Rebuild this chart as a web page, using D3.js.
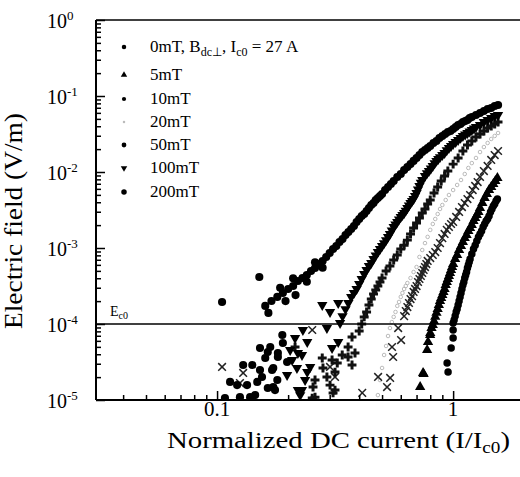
<!DOCTYPE html>
<html><head><meta charset="utf-8">
<script src="https://cdn.jsdelivr.net/npm/d3@7"></script>
<style>body{margin:0;background:#fff}svg{display:block}text{font-family:"Liberation Serif","Times New Roman",Times,serif;fill:#000}</style>
</head><body>
<svg id="c" width="520" height="477"></svg>
<script>
// ---------- data (I/Ic0, E in V/m) ----------
const seriesNames = ["0mT", "5mT", "10mT", "20mT", "50mT", "100mT", "200mT"];
const yMajorTicks = [1, 1e-1, 1e-2, 1e-3, 1e-4, 1e-5];
const yTickExp = ["0", "-1", "-2", "-3", "-4", "-5"];
const xMajorTicks = [0.1, 1];
const xTickLabels = ["0.1", "1"];
const Ec0 = 1e-4;

const s0mT = [[0.943,3.07e-5],[0.952,2.33e-5],[0.981,4.83e-5],[1.0,6.55e-5],[1.0,8.34e-5],
[1.00,1.03e-4],[1.01,1.13e-4],[1.02,1.27e-4],[1.03,1.44e-4],[1.04,1.57e-4],[1.05,1.78e-4],[1.06,2.01e-4],[1.07,2.27e-4],[1.08,2.56e-4],[1.09,2.89e-4],[1.10,3.26e-4],[1.11,3.57e-4],[1.12,4.03e-4],[1.13,4.41e-4],[1.14,4.83e-4],[1.15,5.46e-4],[1.16,5.97e-4],[1.17,6.55e-4],[1.18,7.16e-4],[1.20,8.34e-4],[1.22,9.70e-4],[1.24,1.09e-3],[1.26,1.24e-3],[1.28,1.40e-3],[1.30,1.53e-3],[1.32,1.67e-3],[1.34,1.89e-3],[1.36,2.07e-3],[1.38,2.27e-3],[1.40,2.41e-3],[1.42,2.64e-3],[1.44,2.98e-3],[1.46,3.26e-3],[1.48,3.57e-3],[1.50,3.79e-3],[1.52,4.15e-3],[1.54,4.41e-3]];

const s5mT = [[0.725,1.48e-5],[0.746,2.27e-5],[0.750,2.20e-5],[0.776,4.55e-5],[0.783,5.79e-5],[0.799,7.16e-5],
[0.80,7.62e-5],[0.81,8.85e-5],[0.82,9.70e-5],[0.83,1.09e-4],[0.84,1.24e-4],[0.85,1.40e-4],[0.86,1.57e-4],[0.87,1.78e-4],[0.88,2.01e-4],[0.89,2.20e-4],[0.90,2.41e-4],[0.91,2.64e-4],[0.92,2.89e-4],[0.93,3.26e-4],[0.94,3.57e-4],[0.95,3.91e-4],[0.96,4.28e-4],[0.97,4.69e-4],[0.98,5.14e-4],[0.99,5.62e-4],[1.00,6.15e-4],[1.02,7.16e-4],[1.04,8.09e-4],[1.06,9.41e-4],[1.08,1.06e-3],[1.10,1.20e-3],[1.12,1.35e-3],[1.14,1.48e-3],[1.16,1.67e-3],[1.18,1.83e-3],[1.20,2.01e-3],[1.22,2.27e-3],[1.24,2.48e-3],[1.26,2.72e-3],[1.28,2.98e-3],[1.30,3.36e-3],[1.33,3.91e-3],[1.36,4.55e-3],[1.39,5.14e-3],[1.42,5.79e-3],[1.45,6.35e-3],[1.48,6.95e-3],[1.51,7.62e-3],[1.54,8.34e-3]];

const s10mT = [[0.105,2.72e-5],[0.125,1.67e-5],[0.129,2.27e-5],[0.253,8.34e-5],[0.301,2.72e-5],[0.316,2.01e-5],
[0.412,1.24e-5],[0.481,2.01e-5],[0.525,1.48e-5],[0.541,1.95e-5],[0.557,3.68e-5],[0.551,4.98e-5],[0.602,6.15e-5],[0.585,8.85e-5],
[0.62,1.27e-4],[0.63,1.48e-4],[0.64,1.67e-4],[0.65,1.89e-4],[0.66,2.13e-4],[0.67,2.33e-4],[0.68,2.64e-4],[0.69,2.89e-4],[0.70,3.16e-4],[0.71,3.57e-4],[0.72,3.91e-4],[0.73,4.28e-4],[0.74,4.69e-4],[0.75,5.14e-4],[0.76,5.62e-4],[0.77,6.15e-4],[0.78,6.75e-4],[0.80,7.38e-4],[0.82,8.09e-4],[0.84,8.85e-4],[0.86,1.00e-3],[0.88,1.16e-3],[0.90,1.35e-3],[0.92,1.53e-3],[0.94,1.73e-3],[0.96,1.89e-3],[0.98,2.07e-3],[1.00,2.20e-3],[1.03,2.56e-3],[1.06,2.98e-3],[1.09,3.46e-3],[1.12,3.91e-3],[1.15,4.41e-3],[1.18,4.98e-3],[1.21,5.79e-3],[1.24,6.55e-3],[1.27,7.38e-3],[1.30,8.60e-3],[1.35,1.03e-2],[1.40,1.20e-2],[1.45,1.44e-2],[1.50,1.67e-2],[1.55,1.89e-2]];

const s20mT = [[0.48,1.16e-5],[0.49,1.83e-5],[0.50,2.64e-5],[0.51,3.91e-5],[0.52,5.14e-5],[0.53,6.95e-5],[0.54,8.85e-5],[0.55,1.06e-4],[0.56,1.24e-4],[0.57,1.44e-4],[0.58,1.73e-4],[0.59,1.95e-4],[0.60,2.27e-4],[0.61,2.56e-4],[0.62,2.89e-4],[0.63,3.16e-4],[0.64,3.46e-4],[0.66,4.03e-4],[0.68,4.83e-4],[0.70,5.62e-4],[0.72,7.62e-4],[0.74,9.41e-4],[0.76,1.16e-3],[0.78,1.40e-3],[0.80,1.73e-3],[0.82,2.07e-3],[0.84,2.41e-3],[0.86,2.80e-3],[0.88,3.26e-3],[0.90,3.68e-3],[0.93,4.28e-3],[0.96,4.98e-3],[1.00,5.79e-3],[1.04,6.75e-3],[1.08,7.85e-3],[1.12,9.41e-3],[1.16,1.13e-2],[1.20,1.31e-2],[1.25,1.53e-2],[1.30,1.83e-2],[1.35,2.13e-2],[1.40,2.41e-2],[1.45,2.72e-2],[1.50,2.98e-2],[1.55,3.26e-2]];

const s50mT = [[0.279,3.57e-5],[0.260,1.83e-5],[0.253,1.06e-5],[0.373,6.75e-5],[0.359,4.98e-5],[0.339,3.91e-5],[0.384,4.15e-5],[0.307,3.36e-5],[0.323,3.07e-5],[0.359,3.68e-5],[0.281,2.64e-5],[0.316,2.33e-5],[0.373,2.89e-5],[0.292,2.01e-5],[0.255,1.48e-5],[0.301,1.57e-5],[0.316,1.35e-5],[0.260,1.09e-5],[0.310,1.24e-5],[0.214,4.98e-5],
[0.40,8.09e-5],[0.41,1.00e-4],[0.42,1.24e-4],[0.43,1.44e-4],[0.44,1.78e-4],[0.45,2.13e-4],[0.46,2.48e-4],[0.47,2.80e-4],[0.48,3.16e-4],[0.49,3.57e-4],[0.50,4.03e-4],[0.52,4.98e-4],[0.54,5.79e-4],[0.56,6.95e-4],[0.58,8.09e-4],[0.60,9.70e-4],[0.62,1.09e-3],[0.64,1.27e-3],[0.66,1.53e-3],[0.68,1.83e-3],[0.70,2.13e-3],[0.72,2.48e-3],[0.74,2.89e-3],[0.76,3.26e-3],[0.78,3.79e-3],[0.80,4.28e-3],[0.83,5.30e-3],[0.86,6.35e-3],[0.89,7.62e-3],[0.92,8.85e-3],[0.95,1.03e-2],[1.00,1.27e-2],[1.05,1.53e-2],[1.10,1.89e-2],[1.15,2.27e-2],[1.20,2.56e-2],[1.25,2.89e-2],[1.30,3.16e-2],[1.35,3.46e-2],[1.40,3.79e-2],[1.45,4.03e-2],[1.50,4.28e-2],[1.55,4.55e-2]];

const s100mT = [[0.231,8.34e-5],[0.214,6.55e-5],[0.241,5.79e-5],[0.204,4.55e-5],[0.220,4.15e-5],[0.198,2.13e-5],[0.241,2.33e-5],[0.229,1.35e-5],[0.292,8.85e-5],[0.332,1.03e-4],[0.326,5.79e-5],[0.307,4.83e-5],[0.208,3.36e-5],[0.229,3.91e-5],[0.218,2.64e-5],[0.248,2.72e-5],[0.236,1.83e-5],[0.220,1.35e-5],[0.225,1.16e-5],[0.326,1.89e-4],[0.301,1.44e-4],[0.279,1.78e-4],
[0.34,1.27e-4],[0.35,1.57e-4],[0.36,1.89e-4],[0.37,2.27e-4],[0.38,2.56e-4],[0.39,2.89e-4],[0.40,3.36e-4],[0.41,3.91e-4],[0.42,4.55e-4],[0.43,5.14e-4],[0.44,5.79e-4],[0.45,6.35e-4],[0.46,7.16e-4],[0.47,8.0e-4],[0.48,8.85e-4],[0.49,9.7e-4],[0.50,1.06e-3],[0.51,1.16e-3],[0.52,1.27e-3],[0.53,1.40e-3],[0.54,1.53e-3],[0.55,1.70e-3],[0.56,1.89e-3],[0.57,2.04e-3],[0.58,2.20e-3],[0.59,2.38e-3],[0.60,2.56e-3],[0.61,2.72e-3],[0.62,2.89e-3],[0.63,3.10e-3],[0.64,3.36e-3],[0.65,3.62e-3],[0.66,3.91e-3],[0.67,4.15e-3],[0.68,4.41e-3],[0.69,4.85e-3],[0.70,5.30e-3],[0.71,5.90e-3],[0.72,6.55e-3],[0.73,7.2e-3],[0.74,7.85e-3],[0.76,8.85e-3],[0.775,9.6e-3],[0.79,1.03e-2],[0.805,1.11e-2],[0.82,1.20e-2],[0.835,1.30e-2],[0.85,1.40e-2],[0.865,1.48e-2],[0.88,1.57e-2],[0.90,1.67e-2],[0.92,1.78e-2],[0.94,1.93e-2],[0.96,2.07e-2],[0.98,2.20e-2],[1.00,2.33e-2],[1.025,2.48e-2],[1.05,2.64e-2],[1.075,2.81e-2],[1.10,2.98e-2],[1.125,3.12e-2],[1.15,3.26e-2],[1.175,3.41e-2],[1.20,3.57e-2],[1.225,3.74e-2],[1.25,3.91e-2],[1.30,4.15e-2],[1.35,4.55e-2],[1.40,4.83e-2],[1.45,5.14e-2],[1.50,5.46e-2],[1.55,5.62e-2]];

const s200mT = [[0.105,1.95e-4],[0.151,4.15e-4],
[0.189,7.16e-5],[0.190,5.62e-5],[0.152,4.83e-5],[0.164,4.28e-5],[0.181,4.15e-5],[0.198,3.16e-5],[0.129,2.89e-5],[0.141,2.89e-5],[0.152,2.48e-5],[0.171,2.48e-5],[0.1135,1.73e-5],[0.1216,1.57e-5],[0.134,1.57e-5],[0.148,1.73e-5],[0.180,1.83e-5],[0.164,1.44e-5],[0.176,1.35e-5],[0.138,1.09e-5],[0.145,1.16e-5],[0.108,1.06e-5],[0.168,4.98e-5],[0.160,3.57e-5],[0.181,3.68e-5],[0.173,2.64e-5],[0.155,2.01e-5],[0.173,1.48e-5],[0.125,1.09e-5],
[0.165,1.40e-4],[0.185,3.00e-4],[0.195,2.00e-4],[0.21,4.00e-4],[0.215,2.40e-4],[0.24,3.60e-4],[0.26,6.50e-4],[0.28,5.50e-4],
[0.16,1.73e-4],[0.17,2.01e-4],[0.18,2.27e-4],[0.19,2.56e-4],[0.20,2.89e-4],[0.21,3.16e-4],[0.22,3.68e-4],[0.23,4.03e-4],[0.24,4.41e-4],[0.25,4.98e-4],[0.26,5.46e-4],[0.27,6.15e-4],[0.28,6.75e-4],[0.29,7.62e-4],[0.30,8.60e-4],[0.31,9.70e-4],[0.32,1.06e-3],[0.33,1.20e-3],[0.34,1.31e-3],[0.35,1.48e-3],[0.36,1.62e-3],[0.37,1.78e-3],[0.38,1.95e-3],[0.39,2.20e-3],[0.40,2.41e-3],[0.41,2.64e-3],[0.42,2.80e-3],[0.43,3.07e-3],[0.44,3.36e-3],[0.45,3.68e-3],[0.46,3.91e-3],[0.47,4.28e-3],[0.48,4.55e-3],[0.49,4.83e-3],[0.50,5.14e-3],[0.515,5.79e-3],[0.53,6.35e-3],[0.545,6.95e-3],[0.56,7.62e-3],[0.58,8.60e-3],[0.60,9.41e-3],[0.62,1.06e-2],[0.64,1.16e-2],[0.66,1.27e-2],[0.68,1.40e-2],[0.70,1.53e-2],[0.72,1.67e-2],[0.74,1.83e-2],[0.76,1.95e-2],[0.78,2.07e-2],[0.80,2.20e-2],[0.825,2.41e-2],[0.85,2.56e-2],[0.875,2.80e-2],[0.90,2.98e-2],[0.925,3.16e-2],[0.95,3.36e-2],[0.975,3.46e-2],[1.00,3.68e-2],[1.025,3.91e-2],[1.05,4.15e-2],[1.075,4.28e-2],[1.10,4.55e-2],[1.125,4.69e-2],[1.15,4.83e-2],[1.175,5.14e-2],[1.20,5.30e-2],[1.25,5.62e-2],[1.30,5.97e-2],[1.35,6.35e-2],[1.40,6.75e-2],[1.45,6.95e-2],[1.50,7.38e-2],[1.55,7.62e-2]];

const seriesData = [s0mT, s5mT, s10mT, s20mT, s50mT, s100mT, s200mT];

// ---------- chart ----------
const svg = d3.select("#c");
const L = 96, R = 520, T = 20, B = 400;
const x = d3.scaleLog().domain([0.0307, 1.92]).range([L, R]);
const y = d3.scaleLog().domain([1e-5, 1]).range([B, T]);

const styles = {
  "0mT":   {sym: d3.symbolCircle, size: 44, fill: "#000", stroke: "none", sw: 0},
  "5mT":   {sym: d3.symbolTriangle, size: 46, fill: "#000", stroke: "none", sw: 0},
  "10mT":  {sym: d3.symbolX, size: 40, fill: "none", stroke: "#222", sw: 1.5},
  "20mT":  {sym: d3.symbolCircle, size: 10, fill: "none", stroke: "#aaa", sw: 0.8},
  "50mT":  {sym: d3.symbolCross, size: 44, fill: "#111", stroke: "none", sw: 0},
  "100mT": {sym: d3.symbolTriangle, size: 46, fill: "#000", stroke: "none", sw: 0, rot: 180},
  "200mT": {sym: d3.symbolCircle, size: 52, fill: "#000", stroke: "none", sw: 0}
};

svg.append("clipPath").attr("id","pc").append("rect")
  .attr("x", L).attr("y", T - 4).attr("width", R - L).attr("height", B - T + 4);

const order = [3, 2, 4, 5, 1, 6, 0];
const gData = svg.append("g").attr("clip-path", "url(#pc)");
order.forEach(i => {
  const name = seriesNames[i], st = styles[name];
  const sym = d3.symbol().type(st.sym).size(st.size);
  gData.append("g").selectAll("path").data(seriesData[i]).join("path")
    .attr("d", sym)
    .attr("transform", d => `translate(${x(d[0])},${y(d[1])})` + (st.rot ? ` rotate(${st.rot})` : ""))
    .attr("fill", st.fill).attr("stroke", st.stroke).attr("stroke-width", st.sw);
});

// Ec0 line
svg.append("line").attr("x1", L).attr("x2", R).attr("y1", y(Ec0)).attr("y2", y(Ec0))
  .attr("stroke", "#000").attr("stroke-width", 1.5);
const ec = svg.append("text").attr("x", 110).attr("y", y(Ec0) - 8).attr("font-size", 14);
ec.append("tspan").text("E");
ec.append("tspan").attr("font-size", 10).attr("dy", 3).text("c0");

// axes
const yMinor = [];
for (let e = -5; e < 0; e++) for (let k = 2; k <= 9; k++) yMinor.push(k * Math.pow(10, e));
const xMinor = [];
[0.01, 0.1].forEach(b => { for (let k = 2; k <= 9; k++) { const v = k * b; if (v > 0.031 && v < 1.9) xMinor.push(v); } });

const axStyle = g => { g.select(".domain").remove(); g.selectAll("line").attr("stroke", "#000").attr("stroke-width", 1.5); g.selectAll("text").remove(); };
svg.append("g").attr("transform", `translate(${L},0)`).call(d3.axisLeft(y).tickValues(yMajorTicks).tickSize(-9)).call(axStyle);
svg.append("g").attr("transform", `translate(${L},0)`).call(d3.axisLeft(y).tickValues(yMinor).tickSize(-5)).call(axStyle);
svg.append("g").attr("transform", `translate(0,${B})`).call(d3.axisBottom(x).tickValues(xMajorTicks).tickSize(-9)).call(axStyle);
svg.append("g").attr("transform", `translate(0,${B})`).call(d3.axisBottom(x).tickValues(xMinor).tickSize(-5)).call(axStyle);

// frame
svg.append("line").attr("x1", L).attr("x2", L).attr("y1", T).attr("y2", B).attr("stroke", "#000").attr("stroke-width", 2);
svg.append("line").attr("x1", L).attr("x2", R).attr("y1", B).attr("y2", B).attr("stroke", "#000").attr("stroke-width", 2);
svg.append("line").attr("x1", L).attr("x2", R).attr("y1", T).attr("y2", T).attr("stroke", "#000").attr("stroke-width", 1.6);

// y tick labels
yMajorTicks.forEach((v, i) => {
  const t = svg.append("text").attr("x", 47).attr("y", y(v) + 8).attr("font-size", 20);
  t.append("tspan").text("10");
  t.append("tspan").attr("font-size", 13).attr("dy", -8).text(yTickExp[i]);
});
// x tick labels
xMajorTicks.forEach((v, i) => {
  svg.append("text").attr("x", x(v)).attr("y", 416).attr("font-size", 21).attr("text-anchor", "middle").text(xTickLabels[i]);
});

// axis titles
const xt = svg.append("text").attr("x", 167).attr("y", 448).attr("font-size", 24)
  .attr("textLength", 343).attr("lengthAdjust", "spacingAndGlyphs");
xt.append("tspan").text("Normalized DC current (I/I");
xt.append("tspan").attr("font-size", 16).attr("dy", 5).text("c0");
xt.append("tspan").attr("dy", -5).text(")");
svg.append("text").attr("transform", "translate(22,221) rotate(-90)").attr("font-size", 25)
  .attr("text-anchor", "middle").attr("textLength", 216).attr("lengthAdjust", "spacingAndGlyphs")
  .text("Electric field (V/m)");

// legend
const legY = [47, 75, 99, 122, 145, 168, 192];
const legendSizes = {"0mT": 16, "5mT": 18, "10mT": 14, "20mT": 5, "50mT": 18, "100mT": 18, "200mT": 24};
seriesNames.forEach((name, i) => {
  const st = styles[name];
  svg.append("path").attr("d", d3.symbol().type(name === "10mT" || name === "50mT" ? d3.symbolCircle : st.sym).size(legendSizes[name]))
    .attr("transform", `translate(124,${legY[i]})` + (st.rot ? " rotate(180)" : ""))
    .attr("fill", name === "20mT" ? "#bbb" : "#000");
  const t = svg.append("text").attr("x", 150).attr("y", legY[i] + 5).attr("font-size", 17);
  if (i === 0) {
    t.append("tspan").text("0mT, B");
    t.append("tspan").attr("font-size", 12).attr("dy", 4).text("dc\u22A5");
    t.append("tspan").attr("dy", -4).text(", I");
    t.append("tspan").attr("font-size", 12).attr("dy", 4).text("c0");
    t.append("tspan").attr("dy", -4).text(" = 27 A");
  } else t.text(name);
});
</script>
</body></html>
